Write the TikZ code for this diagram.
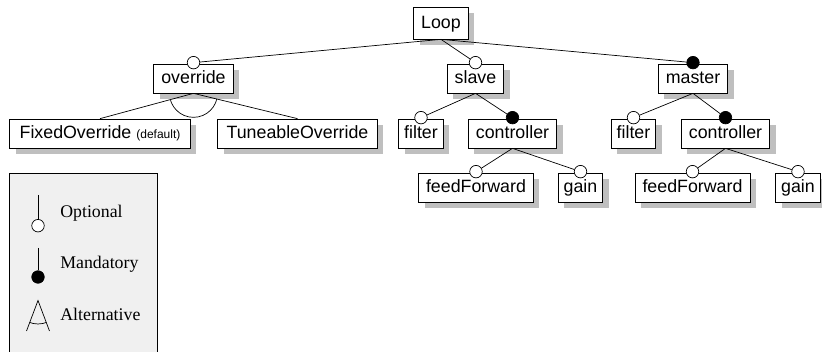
\documentclass[tikz,border=0pt]{standalone}
\usepackage{fontspec}
\setmainfont{Liberation Serif}
\setsansfont{Liberation Sans}
\usepackage{tikz}
\usetikzlibrary{positioning,shadows,calc}

\begin{document}
\begin{tikzpicture}[x=1pt,y=-1pt,on grid,line width=0.7pt]

  \tikzset{
    feat/.style={draw,fill=white,font=\sffamily\fontsize{17.8}{20}\selectfont,
      inner xsep=7.5pt,inner ysep=0pt,minimum height=29pt,
      text height=13.5pt,text depth=3pt,
      drop shadow={shadow xshift=6pt,shadow yshift=-6pt,fill=black!25,opacity=1}},
    opt/.style={circle,draw,fill=white,inner sep=0pt,minimum size=12.5pt},
    man/.style={opt,fill=black},
    legtext/.style={font=\fontsize{17.8}{20}\selectfont,anchor=base west,inner sep=0pt},
  }

   \useasboundingbox (0,0) rectangle (822,352);

   \node[feat,minimum height=32pt] (loop) at (441,23) {Loop};

   % OVERRIDE

   \node[feat] (override) [below left=55.5pt and 247.5pt of loop] {override};
   \node[opt] (override-c) at ([yshift=1pt]override.north) {};
   \draw (loop.south) -- (override-c);

   \node[feat,inner xsep=10pt] (fixed) [below left=55pt and 93.5pt of override]
     {FixedOverride {\fontsize{12}{14}\selectfont (default)}};
   \node[feat,inner xsep=9pt] (tuneable) [below right=55pt and 104pt of override] {TuneableOverride};
   \draw (override.south) -- (fixed.north);
   \draw (override.south) -- (tuneable.north);
   \begin{scope}
     \clip (override.south) -- (fixed.north) -- (tuneable.north) -- cycle;
     \draw (override.south) circle[radius=24pt];
   \end{scope}

   % SLAVE

   \node[feat] (slave) [below right=55.5pt and 34.5pt of loop] {slave};
   \node[opt] (slave-c) at ([yshift=1pt]slave.north) {};
   \draw (loop.south) -- (slave-c);

   \node[feat,inner xsep=5.5pt] (sfilter) [below left=55pt and 54.5pt of slave] {filter};
   \node[opt] (sfilter-c) at ([yshift=1pt]sfilter.north) {};
   \draw (slave.south) -- (sfilter-c);
   \node[feat] (sctrl) [below right=55pt and 37pt of slave] {controller};
   \node[man] (sctrl-c) at ([yshift=1pt]sctrl.north) {};
   \draw (slave.south) -- (sctrl-c);

   \node[feat] (sff) [below left=54pt and 36.5pt of sctrl] {feedForward};
   \node[opt] (sff-c) at ([yshift=1pt]sff.north) {};
   \draw (sctrl.south) -- (sff-c);
   \node[feat,inner xsep=5.5pt] (sgain) [below right=54pt and 68pt of sctrl] {gain};
   \node[opt] (sgain-c) at ([yshift=1pt]sgain.north) {};
   \draw (sctrl.south) -- (sgain-c);

   % MASTER

   \node[feat] (master) [below right=55.5pt and 252pt of loop] {master};
   \node[man] (master-c) at ([yshift=1pt]master.north) {};
   \draw (loop.south) -- (master-c);

   \node[feat,inner xsep=5.5pt] (mfilter) [below left=55pt and 59.5pt of master] {filter};
   \node[opt] (mfilter-c) at ([yshift=1pt]mfilter.north) {};
   \draw (master.south) -- (mfilter-c);
   \node[feat] (mctrl) [below right=55pt and 32.5pt of master] {controller};
   \node[man] (mctrl-c) at ([yshift=1pt]mctrl.north) {};
   \draw (master.south) -- (mctrl-c);

   \node[feat] (mff) [below left=54pt and 33pt of mctrl] {feedForward};
   \node[opt] (mff-c) at ([yshift=1pt]mff.north) {};
   \draw (mctrl.south) -- (mff-c);
   \node[feat,inner xsep=5.5pt] (mgain) [below right=54pt and 72.5pt of mctrl] {gain};
   \node[opt] (mgain-c) at ([yshift=1pt]mgain.north) {};
   \draw (mctrl.south) -- (mgain-c);

   % LEGEND

   \draw[fill=black!6] (9,352) |- (157,173) -- (157,352);

   \coordinate (opttop) at (38,195);
   \node[opt] (optdot) at (38,225.7) {};
   \draw (opttop) -- (optdot);
   \node[legtext] (optlabel) at (60,217.3) {Optional};

   \coordinate (mantop) at (38,248);
   \node[man] (mandot) at (38,277) {};
   \draw (mantop) -- (mandot);
   \node[legtext] (manlabel) at (60,269) {Mandatory};

   \coordinate (altapex) at (38,300.5);
   \coordinate (altleft) at (26.5,331);
   \coordinate (altright) at (49.5,331);
   \draw (altleft) -- (altapex) -- (altright);
   \begin{scope}
     \clip (altapex) -- (altleft) -- (altright) -- cycle;
     \draw (altapex) circle[radius=23.5pt];
   \end{scope}
   \node[legtext] (altlabel) at (60,320.5) {Alternative};
\end{tikzpicture}
\end{document}
